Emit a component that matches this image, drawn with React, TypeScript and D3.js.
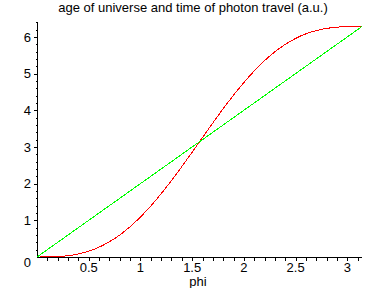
import React from "react";
import * as d3 from "d3";

const phiValues = [0, 0.1, 0.2, 0.3, 0.4, 0.5, 0.6, 0.7, 0.8, 0.9, 1.0, 1.1, 1.2, 1.3, 1.4, 1.5, 1.6, 1.7, 1.8, 1.9, 2.0, 2.1, 2.2, 2.3, 2.4, 2.5, 2.6, 2.7, 2.8, 2.9, 3.0, 3.1, 3.1416];
const ageOfUniverse = [0, 0.0013, 0.0106, 0.035, 0.083, 0.158, 0.268, 0.415, 0.6, 0.826, 1.091, 1.391, 1.725, 2.084, 2.465, 2.859, 3.258, 3.655, 4.043, 4.412, 4.757, 5.072, 5.352, 5.594, 5.796, 5.959, 6.084, 6.173, 6.231, 6.265, 6.279, 6.283, 6.2832];
const photonPhi = [0, 3.1416];
const photonTime = [0, 6.2832];
const xTickLabels = ["0.5", "1", "1.5", "2", "2.5", "3"];
const xTickValues = [0.5, 1, 1.5, 2, 2.5, 3];
const yTickLabels = ["0", "1", "2", "3", "4", "5", "6"];
const yTickValues = [0, 1, 2, 3, 4, 5, 6];
const title = "age of universe and time of photon travel (a.u.)";
const xLabel = "phi";

const W = 388;
const H = 288;
const FONT = "'Liberation Sans', Arial, Helvetica, sans-serif";

export default function App() {
  const x = d3.scaleLinear().domain([0, Math.PI]).range([37, 362]);
  const y = d3.scaleLinear().domain([0, 2 * Math.PI]).range([257, 26.5]);

  const redData = phiValues.map((p, i) => [p, ageOfUniverse[i]] as [number, number]);
  const greenData = photonPhi.map((p, i) => [p, photonTime[i]] as [number, number]);
  const line = d3
    .line<[number, number]>()
    .x((d) => x(d[0]))
    .y((d) => y(d[1]))
    .curve(d3.curveCatmullRom);

  const xMinor = d3.range(1, 32).map((i) => i / 10);
  const yMinor = d3.range(1, 33).map((i) => i / 5);
  const x0 = Math.round(x(0)) + 0.5;
  const y0 = Math.round(y(0)) + 0.5;
  const yTop = Math.round(y(6.43)) + 0.5;

  return (
    <svg
      width={W}
      height={H}
      style={{ position: "absolute", left: 0, top: 0, background: "#fff" }}
      fontFamily={FONT}
    >
      <rect x={0} y={0} width={W} height={H} fill="#fff" />
      <text x={193} y={11.5} textAnchor="middle" fontSize={13} fill="#000">
        {title}
      </text>
      <path d={line(redData) || ""} fill="none" stroke="#ff0000" strokeWidth={1} shapeRendering="crispEdges" />
      <g stroke="#000" strokeWidth={1} shapeRendering="crispEdges">
        <line x1={x0} x2={x(Math.PI)} y1={y0} y2={y0} />
        <line x1={x0} x2={x0} y1={y0} y2={yTop} />
        {xMinor.map((v) => (
          <line key={"xm" + v} x1={Math.round(x(v)) + 0.5} x2={Math.round(x(v)) + 0.5} y1={y0} y2={y0 + 3} />
        ))}
        {yMinor.map((v) => {
          const major = Math.abs(v - Math.round(v)) < 1e-6;
          const yy = Math.round(y(v)) + 0.5;
          return <line key={"ym" + v} x1={x0 - (major ? 4 : 2)} x2={x0} y1={yy} y2={yy} />;
        })}
      </g>
      <path d={line(greenData) || ""} fill="none" stroke="#00ff00" strokeWidth={1} shapeRendering="crispEdges" />
      {xTickValues.map((v, i) => (
        <text key={"xl" + v} x={x(v)} y={271.5} textAnchor="middle" fontSize={13} fill="#000">
          {xTickLabels[i]}
        </text>
      ))}
      {yTickValues.map((v, i) => (
        <text
          key={"yl" + v}
          x={31}
          y={v === 0 ? y(v) + 10 : y(v) + 4.7}
          textAnchor="end"
          fontSize={13}
          fill="#000"
        >
          {yTickLabels[i]}
        </text>
      ))}
      <text x={198} y={286} textAnchor="middle" fontSize={13} fill="#000">
        {xLabel}
      </text>
    </svg>
  );
}
